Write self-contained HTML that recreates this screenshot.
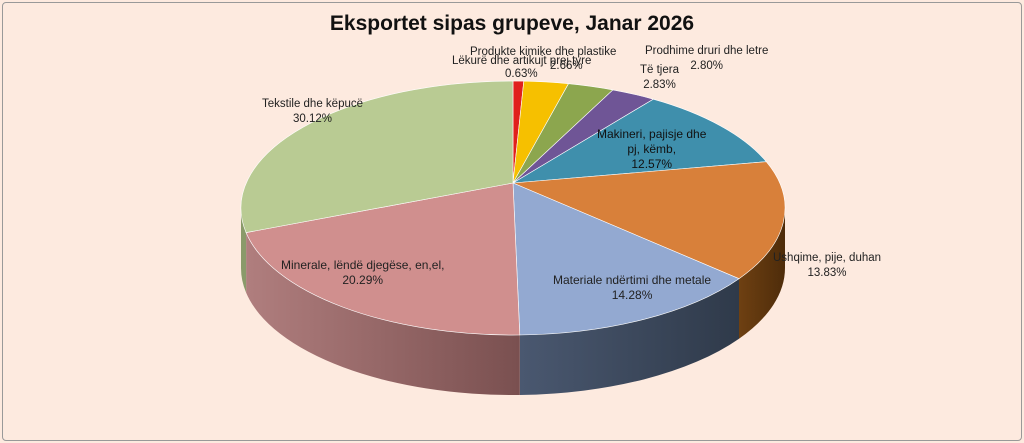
<!DOCTYPE html>
<html><head><meta charset="utf-8"><style>
html,body{margin:0;padding:0;background:#fdeadf;}
#c{position:relative;width:1024px;height:443px;background:#fdeadf;overflow:hidden;font-family:"Liberation Sans",sans-serif;}
.t{position:absolute;font-size:11.5px;color:#222;text-align:center;line-height:15px;white-space:nowrap;}
</style></head><body><div id="c">
<div style="position:absolute;left:2px;top:2px;width:1018px;height:437px;border:1px solid #999;border-radius:4px;"></div>
<div style="position:absolute;left:0;width:1024px;top:12px;text-align:center;font-weight:bold;font-size:21px;color:#111;">Eksportet sipas grupeve, Janar 2026</div>
<svg id="s" width="1024" height="443" style="position:absolute;left:0;top:0">
<defs>
<linearGradient id="gp" x1="0" x2="1"><stop offset="0" stop-color="#b07e7e"/><stop offset="1" stop-color="#7a5050"/></linearGradient>
<linearGradient id="gb" x1="0" x2="1"><stop offset="0" stop-color="#4a5870"/><stop offset="1" stop-color="#2f3a4a"/></linearGradient>
<linearGradient id="go" x1="0" x2="1"><stop offset="0" stop-color="#6e4012"/><stop offset="1" stop-color="#4e2c0a"/></linearGradient>
</defs>
<g id="g"></g></svg>
<div class="t" style="left:470px;top:45px">Produkte kimike dhe plastike</div>
<div class="t" style="left:452px;top:54px">Lëkurë dhe artikujt prej tyre</div>
<div class="t" style="left:505px;top:67px">0.63%</div>
<div class="t" style="left:550px;top:59px">2.66%</div>
<div class="t" style="left:645px;top:44px">Prodhime druri dhe letre<br>2.80%</div>
<div class="t" style="left:640px;top:63px">Të tjera<br>2.83%</div>
<div class="t" style="left:597px;top:127px;font-size:12px;color:#111">Makineri, pajisje dhe<br>pj, këmb,<br>12.57%</div>
<div class="t" style="left:773px;top:251px">Ushqime, pije, duhan<br>13.83%</div>
<div class="t" style="left:553px;top:273px;font-size:12px">Materiale ndërtimi dhe metale<br>14.28%</div>
<div class="t" style="left:281px;top:258px;font-size:12px">Minerale, lëndë djegëse, en,el,<br>20.29%</div>
<div class="t" style="left:262px;top:97px">Tekstile dhe këpucë<br>30.12%</div>
</div>
<script>
var cx=513,cy=208,rx=272,ry=127,d=60,ax=513,ay=183;
var data=[[0.63,"#e0201c",null],[2.66,"#f6c000",null],[2.80,"#8ca64e",null],[2.83,"#6f5596",null],[12.57,"#3f8fac",null],[13.83,"#d8803a","url(#go)"],[14.28,"#93a9d1","url(#gb)"],[20.29,"#d08f8e","url(#gp)"],[30.12,"#b9cb93","#8a9a6a"]];
function P(t,dy){return (cx+rx*Math.cos(t)).toFixed(1)+","+(cy+dy+ry*Math.sin(t)).toFixed(1);}
function T(phi){var dx=rx*Math.cos(phi),dy=(Math.sin(phi)<0?102:152)*Math.sin(phi);
 var ux=(ax-cx)/rx,uy=(ay-cy)/ry,vx=dx/rx,vy=dy/ry;
 var A=vx*vx+vy*vy,B=2*(ux*vx+uy*vy),C=ux*ux+uy*uy-1;
 var s=(-B+Math.sqrt(B*B-4*A*C))/(2*A);
 var x=ax+s*dx,y=ay+s*dy;return Math.atan2((y-cy)/ry,(x-cx)/rx);}
var g=document.getElementById("g"),h="",tops="",phi=-Math.PI/2,R=Math.PI/180,a=-Math.PI/2,cum=0;
data.forEach(function(s,i){cum+=s[0];var phib=-Math.PI/2+cum*3.6*R;
 var b=(i==data.length-1)?1.5*Math.PI:T(phib);while(b<a)b+=2*Math.PI;
 var s0=Math.max(a,0),s1=Math.min(b,Math.PI);
 if(s1>s0){h+='<path d="M'+P(s0,0)+' A'+rx+','+ry+' 0 0 1 '+P(s1,0)+' L'+P(s1,d)+' A'+rx+','+ry+' 0 0 0 '+P(s0,d)+' Z" fill="'+(s[2]||s[1])+'"/>';}
 tops+='<path d="M'+ax+','+ay+' L'+P(a,0)+' A'+rx+','+ry+' 0 '+((b-a)>Math.PI?1:0)+' 1 '+P(b,0)+' Z" fill="'+s[1]+'" stroke="#fff" stroke-width="0.6"/>';
 a=b;});
g.innerHTML=h+tops;
</script>
</body></html>
